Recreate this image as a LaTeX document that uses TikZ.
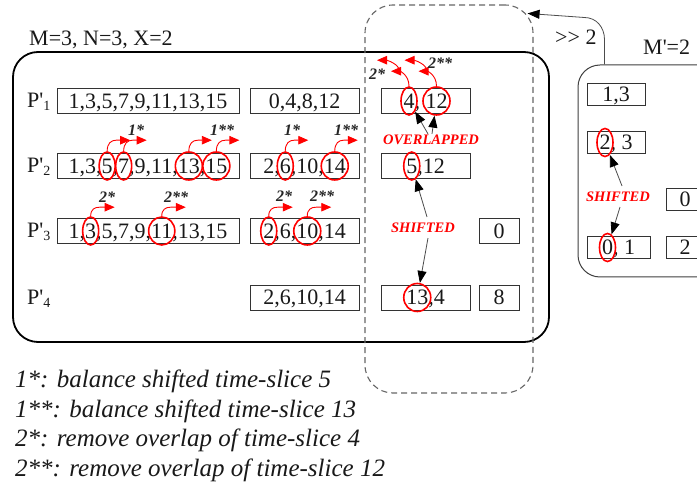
\documentclass[tikz,border=0pt]{standalone}
\usepackage{fontspec}
\newfontfamily\tnr{Liberation Serif}
\usetikzlibrary{arrows.meta,calc,shapes.geometric}

% fonts
\newcommand\boxfont{\tnr\fontsize{22}{26}\selectfont}
\newcommand\legfont{\tnr\fontsize{25}{29}\selectfont\itshape}
\newcommand\tagfont{\tnr\fontsize{16}{18}\selectfont\bfseries\itshape}
\newcommand\redfont{\tnr\fontsize{14.5}{16}\selectfont\bfseries\itshape}

% \ringon{name}{cell}{full text}{text before the ring}{ringed text}
\newlength\ringpre \newlength\ringmid \newlength\ringall
\newcommand\ringon[5]{%
  \pgfinterruptpicture
    \settowidth\ringall{\boxfont #3}\global\ringall=\ringall
    \settowidth\ringpre{\boxfont #4}\global\ringpre=\ringpre
    \settowidth\ringmid{\boxfont #5}\global\ringmid=\ringmid
  \endpgfinterruptpicture
  \pgfmathsetmacro\ringdx{\ringpre+0.5*\ringmid-0.5*\ringall}%
  \pgfmathsetmacro\ringw{\ringmid+5}%
  \node[ring, minimum width=\ringw pt] (#1)
    at ([xshift=\ringdx pt]#2.center) {};%
}

\tikzset{
  cell/.style={draw=black!80, line width=0.8pt, minimum height=25pt, inner sep=0pt,
    text height=15pt, text depth=0pt, font=\boxfont, text=black!90},
  ring/.style={draw=red, line width=1.6pt, ellipse, minimum height=28pt, inner sep=0pt},
  redarc/.style={draw=red, line width=0.9pt, -{Triangle[length=10pt,width=8.5pt]}},
  blkarr/.style={draw=black!70, line width=0.8pt, -{Triangle[length=12pt,width=9pt,color=black]}},
  startag/.style={font=\tagfont, text=black!85, inner sep=0pt},
  redtag/.style={font=\redfont, text=red, inner sep=0pt},
  plain/.style={font=\boxfont, text=black!90, inner sep=0pt, anchor=base west},
  legend/.style={font=\legfont, text=black!90, inner sep=0pt, anchor=base west},
}

\begin{document}
\begin{tikzpicture}[x=1pt,y=-1pt]
\useasboundingbox (0,0) rectangle (697,486);
\fill[white] (0,0) rectangle (697,486);
\clip (0,0) rectangle (697,486);

% frames
\node[draw=black, line width=1.8pt, rounded corners=25pt, minimum width=536pt,
      minimum height=290pt, inner sep=0pt] (mframe) at (281,197) {};
\node[draw=black!60, line width=1.1pt, dash pattern=on 6pt off 4pt, rounded corners=28pt,
      minimum width=168pt, minimum height=388pt, inner sep=0pt] (dframe) at (449,199) {};
\node[draw=black!75, line width=1pt, rounded corners=22pt, minimum width=142pt,
      minimum height=212pt, inner sep=0pt] (rframe) at (649,171) {};

% titles
\node[plain] (mtitle) at (29,46) {M=3, N=3, X=2};
\node[plain] (rtitle) at (643,55) {M'=2};
\node[plain] (shiftlbl) at (555,45) {>\kern0pt> 2};

% row labels
\node[plain] (p1) at (27,108) {P'\raisebox{-3pt}{\fontsize{14}{16}\selectfont 1}};
\node[plain] (p2) at (27,173) {P'\raisebox{-3pt}{\fontsize{14}{16}\selectfont 2}};
\node[plain] (p3) at (27,238) {P'\raisebox{-3pt}{\fontsize{14}{16}\selectfont 3}};
\node[plain] (p4) at (27,304.5) {P'\raisebox{-3pt}{\fontsize{14}{16}\selectfont 4}};

% cells of the left block
\node[cell, minimum width=182pt] (a1) at (148,101) {1,3,5,7,9,11,13,15};
\node[cell, minimum width=109pt] (b1) at (304.5,101) {0,4,8,12};
\node[cell, minimum width=89pt]  (c1) at (425.5,101) {4, 12};
\node[cell, minimum width=182pt] (a2) at (148,166) {1,3,5,7,9,11,13,15};
\node[cell, minimum width=109pt] (b2) at (304.5,166) {2,6,10,14};
\node[cell, minimum width=89pt]  (c2) at (425.5,166) {5,12};
\node[cell, minimum width=182pt] (a3) at (148,231) {1,3,5,7,9,11,13,15};
\node[cell, minimum width=109pt] (b3) at (304.5,231) {2,6,10,14};
\node[cell, minimum width=40pt]  (d3) at (499,231) {0};
\node[cell, minimum width=109pt] (b4) at (304.5,297.5) {2,6,10,14};
\node[cell, minimum width=89pt]  (c4) at (425.5,297.5) {13,4};
\node[cell, minimum width=40pt]  (d4) at (499,297.5) {8};

% cells of the right block
\node[cell, minimum width=58pt, minimum height=22pt] (e1) at (616,94) {1,3};
\node[cell, minimum width=58pt, minimum height=22pt] (e2) at (616,142.5) {2, 3};
\node[cell, minimum width=63pt, minimum height=22pt] (e3) at (618.5,247.5) {0, 1};
\node[cell, minimum width=38pt, minimum height=22pt] (f2) at (685,199.5) {0};
\node[cell, minimum width=38pt, minimum height=22pt] (f3) at (685,247.5) {2};

% rings
\ringon{r5}{a2}{1,3,5,7,9,11,13,15}{1,3,}{5}
\ringon{r7}{a2}{1,3,5,7,9,11,13,15}{1,3,5,}{7}
\ringon{r13}{a2}{1,3,5,7,9,11,13,15}{1,3,5,7,9,11,}{13}
\ringon{r15}{a2}{1,3,5,7,9,11,13,15}{1,3,5,7,9,11,13,}{15}
\ringon{r6}{b2}{2,6,10,14}{2,}{6}
\ringon{r14}{b2}{2,6,10,14}{2,6,10,}{14}
\ringon{r3}{a3}{1,3,5,7,9,11,13,15}{1,}{3}
\ringon{r11}{a3}{1,3,5,7,9,11,13,15}{1,3,5,7,9,}{11}
\ringon{r2}{b3}{2,6,10,14}{}{2}
\ringon{r10}{b3}{2,6,10,14}{2,6,}{10}
\ringon{q4}{c1}{4, 12}{}{4}
\ringon{q12}{c1}{4, 12}{4, }{12}
\ringon{q5}{c2}{5,12}{}{5}
\ringon{q13}{c4}{13,4}{}{13}
\ringon{s2}{e2}{2, 3}{}{2}
\ringon{s0}{e3}{0, 1}{}{0}

% balancing moves (row 2)
\foreach \r in {r5,r7,r13,r15,r6,r14}
  \draw[redarc] (\r.north) .. controls +(0,-8) and +(-5,0) .. ++(9,-11) -- ++(14,0);
% overlap removal (row 3)
\foreach \r in {r3,r11,r2,r10}
  \draw[redarc] (\r.north) .. controls +(0,-7) and +(-5,0) .. ++(9,-9) -- ++(15,0);
% double shift to the left (column 3, row 1)
\foreach \r in {q4,q12}{
  \draw[redarc] (\r.north) .. controls +(0,-12) and +(8,0) .. ++(-18,-15);
  \draw[redarc] ($(\r.north)+(-9,-13)$) .. controls +(0,-10) and +(9,0) .. ++(-23,-13);
}

% star tags
\node[startag] (t1a) at (136,130) {1*};
\node[startag] (t1b) at (222,130) {1**};
\node[startag] (t1c) at (292,130) {1*};
\node[startag] (t1d) at (346,130) {1**};
\node[startag] (t2a) at (107,197) {2*};
\node[startag] (t2b) at (176,197) {2**};
\node[startag] (t2c) at (284,196) {2*};
\node[startag] (t2d) at (322,196) {2**};
\node[startag] (t2e) at (377,74) {2*};
\node[startag] (t2f) at (440,63) {2**};

% overlap and shift annotations
\node[redtag] (ov) at (431,140) {OVERLAPPED};
\draw[blkarr] ($(ov.north)+(-3,-1)$) -- (q4);
\draw[blkarr] ($(ov.north)+(1,-1)$) -- (q12);

\node[redtag] (sh) at (423,228) {SHIFTED};
\draw[blkarr] ($(sh.north)+(4,-6)$) -- (q5);
\draw[blkarr] ($(sh.south)+(5,5)$) -- (q13);

\node[redtag] (shr) at (618,197) {SHIFTED};
\draw[blkarr] ($(shr.north)+(4,-6)$) -- (s2);
\draw[blkarr] ($(shr.south)+(2,5)$) -- (s0);

% shift of the right block into the dashed region
\coordinate (shtip) at ([shift={(-6,9)}]dframe.north east);
\draw[blkarr] ([xshift=27pt]rframe.north west) -- ++(0,-25)
  .. controls +(0,-12) and +(12,0) .. ++(-20,-22) -- (shtip);

% legend
\node[legend] (l1) at (15,388) {1*: balance shifted time-slice 5};
\node[legend] (l2) at (15,417.5) {1**: balance shifted time-slice 13};
\node[legend] (l3) at (15,447) {2*: remove overlap of time-slice 4};
\node[legend] (l4) at (15,476.5) {2**: remove overlap of time-slice 12};
\end{tikzpicture}
\end{document}
